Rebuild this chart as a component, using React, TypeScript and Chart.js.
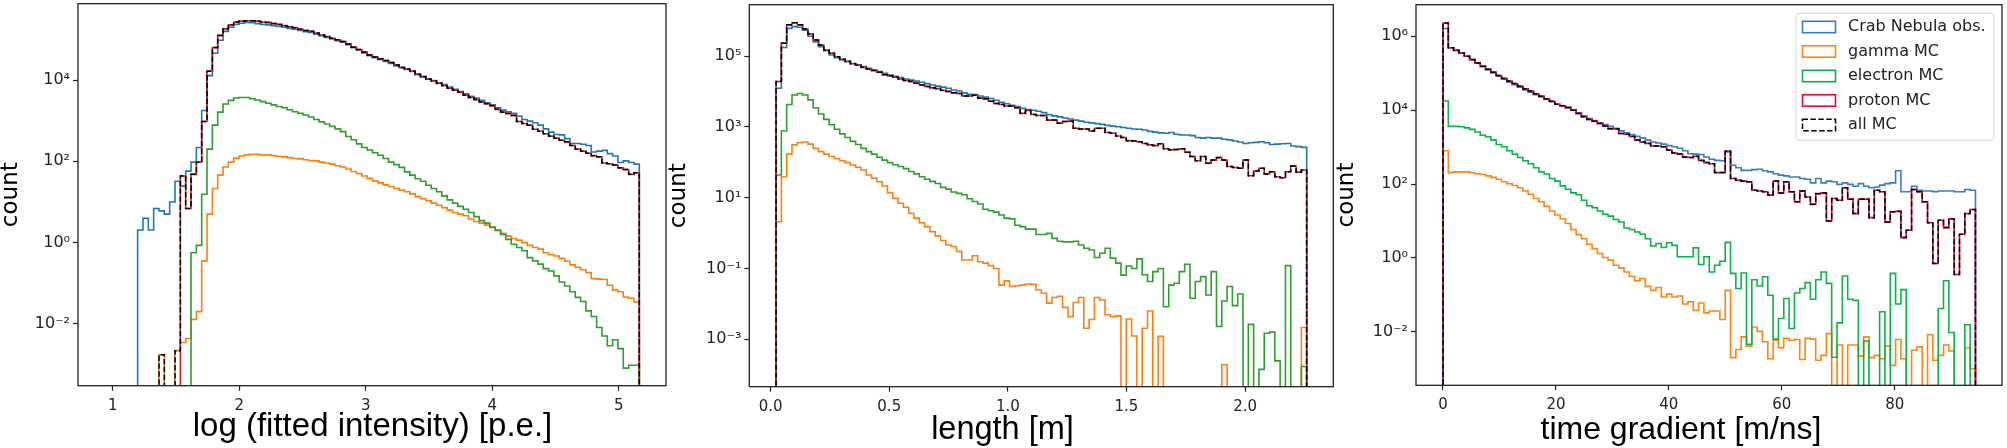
// App.tsx - hillas parameter histograms, data vs MC
import React, { useEffect, useRef } from 'react';
import Chart from 'chart.js/auto';

// bin contents as log10(count), null means an empty bin
const seriesNames = ['Crab Nebula obs.', 'gamma MC', 'electron MC', 'proton MC', 'all MC'];
const defaultColors = ['#1f77b4', '#ff7f0e', '#2ca02c', '#d62728', '#000000'];
const gradientColors = ['#3a7cc4', '#ff8410', '#0db14b', '#e8083c', '#000000'];

// log (fitted intensity)
const intensityRange = [1.1975, 5.163];
const intensityTicks = [1, 2, 3, 4, 5];
const intensityTickLabels = ['1', '2', '3', '4', '5'];
const intensityCountTicks = [1e-2, 1, 1e2, 1e4];
const intensityCountLabels = ['10⁻²', '10⁰', '10²', '10⁴'];
const intensityObs = [
  0.31, 0.6, 0.31, 0.84, 0.78, 0.7, 1.0, 1.51, 1.39, 1.76, 1.98, 2.34, 3.25, 4.11, 4.66, 4.98, 5.2, 5.3, 5.37, 5.4,
  5.42, 5.41, 5.39, 5.37, 5.36, 5.34, 5.32, 5.3, 5.27, 5.25, 5.22, 5.19, 5.17, 5.13, 5.09, 5.05, 5.01, 4.97, 4.93, 4.87,
  4.8, 4.74, 4.67, 4.6, 4.55, 4.51, 4.46, 4.41, 4.35, 4.31, 4.26, 4.21, 4.15, 4.09, 4.03, 3.99, 3.93, 3.89, 3.83, 3.77,
  3.72, 3.66, 3.6, 3.56, 3.5, 3.44, 3.39, 3.32, 3.26, 3.22, 3.18, 3.11, 3.03, 2.99, 2.95, 2.89, 2.8, 2.72, 2.66, 2.65,
  2.56, 2.44, 2.44, 2.42, 2.39, 2.23, 2.25, 2.27, 2.19, 2.13, 1.97, 2.01, 1.97, 1.93,
];
const intensityGamma = [
  null, null, null, null, -2.76, null, null, -2.66, -2.46, -2.36, -1.89, -1.7, -0.45, 0.7, 1.33, 1.66, 1.86, 1.98, 2.08, 2.13,
  2.16, 2.17, 2.17, 2.16, 2.16, 2.14, 2.12, 2.11, 2.09, 2.07, 2.06, 2.04, 2.02, 2.01, 1.98, 1.96, 1.93, 1.89, 1.86, 1.81,
  1.75, 1.7, 1.64, 1.58, 1.52, 1.47, 1.42, 1.38, 1.33, 1.29, 1.25, 1.2, 1.13, 1.08, 1.03, 0.97, 0.92, 0.86, 0.8, 0.74,
  0.7, 0.66, 0.58, 0.52, 0.48, 0.43, 0.37, 0.31, 0.23, 0.16, 0.1, 0.06, 0, -0.07, -0.12, -0.16, -0.25, -0.3, -0.33, -0.39,
  -0.46, -0.55, -0.61, -0.67, -0.74, -0.89, -0.9, -0.91, -1.05, -1.17, -1.21, -1.34, -1.37, -1.46,
];
const intensityElectron = [
  null, null, null, null, null, null, null, null, null, null, -0.25, -0.07, 1.19, 2.3, 2.89, 3.21, 3.41, 3.5, 3.56, 3.57,
  3.57, 3.54, 3.51, 3.47, 3.43, 3.39, 3.35, 3.32, 3.27, 3.22, 3.18, 3.14, 3.09, 3.03, 2.97, 2.92, 2.86, 2.8, 2.73, 2.61,
  2.53, 2.43, 2.34, 2.28, 2.21, 2.15, 2.07, 1.98, 1.92, 1.85, 1.74, 1.66, 1.57, 1.51, 1.41, 1.33, 1.25, 1.15, 1.05, 0.97,
  0.89, 0.82, 0.74, 0.64, 0.54, 0.48, 0.38, 0.3, 0.2, 0.08, -0.04, -0.12, -0.2, -0.37, -0.45, -0.53, -0.64, -0.7, -0.82, -0.97,
  -1.07, -1.21, -1.35, -1.45, -1.68, -1.82, -2.09, -2.3, -2.54, -2.39, -2.61, -3.09, -3.02, -3.02,
];
const intensityProton = [
  null, null, null, null, null, null, null, null, 1.64, 0.84, 1.68, 1.98, 2.98, 4.22, 4.8, 5.1, 5.26, 5.36, 5.43, 5.45,
  5.46, 5.46, 5.45, 5.43, 5.42, 5.39, 5.37, 5.34, 5.31, 5.29, 5.25, 5.22, 5.2, 5.16, 5.11, 5.07, 5.03, 4.99, 4.95, 4.89,
  4.81, 4.75, 4.69, 4.62, 4.57, 4.52, 4.48, 4.43, 4.37, 4.31, 4.27, 4.22, 4.14, 4.08, 4.02, 3.98, 3.92, 3.86, 3.8, 3.75,
  3.7, 3.63, 3.57, 3.52, 3.46, 3.42, 3.37, 3.28, 3.21, 3.18, 3.13, 2.98, 2.93, 2.89, 2.79, 2.74, 2.68, 2.62, 2.57, 2.52,
  2.48, 2.39, 2.3, 2.25, 2.2, 2.14, 2.11, 1.96, 1.94, 1.91, 1.84, 1.8, 1.68, 1.72,
];
const intensityAll = [null, null, null, null, -2.76, null, null, -2.66, ...intensityProton.slice(8)];

// length
const lengthRange = [0.0228, 2.2598];
const lengthTicks = [0, 0.5, 1, 1.5, 2];
const lengthTickLabels = ['0.0', '0.5', '1.0', '1.5', '2.0'];
const lengthCountTicks = [1e-3, 1e-1, 1e1, 1e3, 1e5];
const lengthCountLabels = ['10⁻³', '10⁻¹', '10¹', '10³', '10⁵'];
const lengthObs = [
  4.09, 5.24, 5.78, 5.83, 5.81, 5.73, 5.56, 5.4, 5.26, 5.15, 5.03, 4.95, 4.89, 4.84, 4.79, 4.75, 4.7, 4.65, 4.6, 4.56,
  4.51, 4.46, 4.43, 4.39, 4.35, 4.32, 4.29, 4.26, 4.22, 4.18, 4.15, 4.12, 4.09, 4.04, 4.01, 3.96, 3.92, 3.91, 3.87, 3.84,
  3.8, 3.75, 3.69, 3.65, 3.61, 3.57, 3.52, 3.49, 3.47, 3.44, 3.4, 3.34, 3.31, 3.28, 3.25, 3.22, 3.19, 3.16, 3.13, 3.11,
  3.09, 3.07, 3.04, 3.02, 3.0, 2.98, 2.96, 2.94, 2.93, 2.91, 2.87, 2.85, 2.83, 2.82, 2.84, 2.79, 2.77, 2.77, 2.75, 2.7,
  2.68, 2.7, 2.68, 2.68, 2.65, 2.63, 2.6, 2.57, 2.53, 2.55, 2.56, 2.58, 2.55, 2.5, 2.51, 2.52, 2.53, 2.46, 2.44, 2.42,
];
const lengthGamma = [
  0.32, 1.59, 2.23, 2.49, 2.55, 2.57, 2.51, 2.39, 2.3, 2.23, 2.16, 2.1, 2.04, 1.99, 1.92, 1.86, 1.78, 1.64, 1.55, 1.45,
  1.33, 1.14, 0.98, 0.84, 0.73, 0.56, 0.42, 0.29, 0.18, 0.04, -0.08, -0.21, -0.34, -0.38, -0.52, -0.76, -0.76, -0.64, -0.81, -0.85,
  -0.92, -1.0, -1.47, -1.35, -1.51, -1.49, -1.47, -1.44, -1.45, -1.61, -1.7, -1.98, -1.82, -1.79, -2.1, -2.36, -1.96, -1.82, -2.69, -2.44,
  -1.82, -1.89, -2.31, -2.36, -2.34, null, -2.43, -2.91, null, -2.69, -2.2, null, -2.92, null, null, null, null, null, null, null,
  null, null, null, null, -3.72, null, null, null, null, null, null, null, null, null, null, null, null, null, null, -2.67,
];
const lengthElectron = [
  1.64, 2.88, 3.63, 3.9, 3.94, 3.9, 3.76, 3.54, 3.36, 3.21, 3.06, 2.93, 2.8, 2.7, 2.59, 2.5, 2.39, 2.3, 2.23, 2.14,
  2.06, 1.99, 1.93, 1.88, 1.82, 1.74, 1.67, 1.59, 1.52, 1.46, 1.4, 1.29, 1.24, 1.16, 1.12, 1.08, 0.97, 0.89, 0.82, 0.67,
  0.63, 0.59, 0.51, 0.42, 0.4, 0.22, 0.18, 0.11, 0.11, -0.04, -0.04, -0.01, -0.15, -0.23, -0.25, -0.25, -0.23, -0.34, -0.43, -0.48,
  -0.69, -0.57, -0.43, -0.71, -0.85, -1.19, -0.93, -1.0, -0.73, -1.18, -1.37, -1.09, -1.0, -2.08, -1.47, -1.42, -1.09, -0.88, -1.84, -1.37,
  -1.23, -1.75, -1.09, -2.64, -1.92, -1.51, -2.05, -1.72, null, -2.58, null, -3.85, -2.83, -2.8, -3.61, null, -0.92, null, null, -3.77,
];
const lengthProton = [
  4.28, 5.36, 5.88, 5.94, 5.88, 5.76, 5.62, 5.45, 5.31, 5.17, 5.08, 4.98, 4.91, 4.85, 4.78, 4.74, 4.68, 4.63, 4.59, 4.54,
  4.47, 4.44, 4.4, 4.35, 4.31, 4.28, 4.23, 4.18, 4.14, 4.1, 4.08, 4.03, 4.0, 3.96, 3.94, 3.87, 3.87, 3.89, 3.81, 3.79,
  3.72, 3.66, 3.63, 3.59, 3.58, 3.54, 3.38, 3.46, 3.35, 3.32, 3.32, 3.19, 3.19, 3.1, 3.15, 3.16, 2.96, 2.94, 2.94, 2.88,
  2.96, 2.96, 2.84, 2.82, 2.74, 2.7, 2.61, 2.6, 2.58, 2.53, 2.49, 2.47, 2.52, 2.38, 2.35, 2.36, 2.38, 2.28, 2.16, 2.04,
  2.16, 1.97, 2.06, 2.13, 2.06, 1.88, 1.85, 1.83, 2.06, 1.62, 1.75, 1.83, 1.67, 1.73, 1.59, 1.56, 1.73, 1.89, 1.72, 1.78,
];
const lengthAll = lengthProton;

// time gradient
const gradientRange = [0, 94.3];
const gradientTicks = [0, 20, 40, 60, 80];
const gradientTickLabels = ['0', '20', '40', '60', '80'];
const gradientCountTicks = [1e-2, 1, 1e2, 1e4, 1e6];
const gradientCountLabels = ['10⁻²', '10⁰', '10²', '10⁴', '10⁶'];
const gradientObs = [
  6.21, 5.69, 5.62, 5.55, 5.46, 5.36, 5.27, 5.18, 5.09, 5.01, 4.92, 4.84, 4.76, 4.69, 4.62, 4.55, 4.49, 4.42, 4.36, 4.29,
  4.23, 4.16, 4.12, 4.07, 4.01, 3.93, 3.85, 3.77, 3.72, 3.66, 3.61, 3.56, 3.5, 3.44, 3.39, 3.34, 3.29, 3.25, 3.19, 3.14,
  3.11, 3.08, 3.04, 3.01, 2.97, 2.9, 2.82, 2.81, 2.8, 2.73, 2.67, 2.64, 2.63, 2.87, 2.51, 2.44, 2.37, 2.37, 2.39, 2.4,
  2.36, 2.33, 2.28, 2.24, 2.22, 2.19, 2.19, 2.15, 2.13, 2.03, 2.15, 2.03, 2.08, 2.06, 1.99, 2.03, 1.99, 1.94, 2.01, 1.94,
  1.9, 1.92, 1.97, 2.01, 2.03, 2.36, 1.79, 1.79, 1.94, 1.83, 1.81, 1.81, 1.79, 1.81, 1.81, 1.81, 1.79, 1.79, 1.85, 1.83,
];
const gradientGamma = [
  2.9, 2.31, 2.33, 2.33, 2.33, 2.31, 2.28, 2.26, 2.22, 2.18, 2.13, 2.06, 2.01, 1.96, 1.9, 1.81, 1.72, 1.61, 1.52, 1.4,
  1.27, 1.16, 1.06, 0.93, 0.77, 0.63, 0.52, 0.37, 0.25, 0.12, 0.01, -0.06, -0.2, -0.27, -0.38, -0.5, -0.62, -0.56, -0.77, -0.88,
  -0.8, -1.06, -0.98, -1.06, -1.03, -1.25, -1.19, -1.42, -1.22, -1.49, -1.44, -1.44, -1.67, -0.88, -2.7, -2.48, -2.14, -2.39, -1.87, -1.99,
  -2.27, -2.73, -2.23, -2.43, -2.18, -2.23, -2.21, -2.75, -2.18, -2.2, -2.77, -2.64, -2.05, null, -2.36, null, -2.36, -2.36, -2.66, -2.14,
  -2.7, -2.64, -2.73, -2.39, -2.91, -2.21, -2.73, null, -2.5, -2.41, null, -2.08, -2.77, -2.64, -2.36, -2.52, null, null, -2.44, -3.0,
];
const gradientElectron = [
  4.25, 3.56, 3.56, 3.55, 3.52, 3.48, 3.41, 3.32, 3.28, 3.19, 3.07, 3.01, 2.9, 2.81, 2.72, 2.63, 2.55, 2.44, 2.33, 2.27,
  2.15, 2.08, 1.95, 1.86, 1.76, 1.71, 1.56, 1.41, 1.36, 1.27, 1.18, 1.13, 1.04, 0.97, 0.81, 0.77, 0.7, 0.64, 0.52, 0.32,
  0.39, 0.28, 0.41, 0.34, 0.03, 0.03, 0.03, 0.27, -0.18, 0.03, -0.38, -0.2, -0.09, 0.42, -0.42, -0.83, -0.41, -2.34, -0.59, -0.76,
  -0.51, -1.01, -2.2, -1.64, -1.1, -1.91, -0.95, -0.83, -0.67, -1.12, -0.59, -0.38, -0.69, -2.69, -1.76, -0.49, -1.12, -1.15, null, -2.25,
  null, null, -1.46, null, -0.42, -1.25, -0.86, null, null, null, null, null, null, -1.37, -0.62, -2.02, null, null, -1.81, null,
];
const gradientProton = [
  6.36, 5.69, 5.62, 5.55, 5.46, 5.37, 5.28, 5.19, 5.11, 5.03, 4.94, 4.86, 4.79, 4.72, 4.65, 4.58, 4.52, 4.44, 4.38, 4.31,
  4.24, 4.16, 4.12, 4.07, 4.0, 3.91, 3.82, 3.75, 3.7, 3.64, 3.57, 3.5, 3.5, 3.37, 3.35, 3.29, 3.19, 3.14, 3.1, 3.03,
  3.03, 3.01, 2.92, 2.84, 2.81, 2.73, 2.72, 2.75, 2.64, 2.58, 2.55, 2.31, 2.31, 2.89, 2.15, 2.1, 2.08, 2.06, 1.83, 1.81,
  1.79, 1.7, 2.08, 1.76, 2.06, 1.79, 1.52, 1.81, 1.65, 1.45, 1.74, 1.76, 1.0, 1.61, 1.56, 1.9, 1.59, 1.2, 1.59, 1.59,
  1.09, 1.83, 1.79, 0.97, 1.25, 1.26, 0.55, 0.75, 1.85, 1.79, 1.52, 0.95, -0.15, 1.02, 0.82, 1.06, -0.45, 0.64, 1.2, 1.31,
];
const gradientAll = gradientProton;

const EMPTY_BIN = 1e-9; // below every axis, so the step falls out of the plot

const histPoints = (range: number[], logCounts: (number | null)[]) => {
  const width = (range[1] - range[0]) / logCounts.length;
  const points = [{ x: range[0], y: EMPTY_BIN }];
  logCounts.forEach((v, i) => points.push({ x: range[0] + i * width, y: v === null ? EMPTY_BIN : 10 ** v }));
  points.push({ x: range[1], y: EMPTY_BIN });
  return points;
};

const framePlugin = {
  id: 'frame',
  afterDraw(chart: any) {
    const { ctx, chartArea: a } = chart;
    ctx.save();
    ctx.strokeStyle = '#222';
    ctx.lineWidth = 1.3;
    ctx.strokeRect(a.left, a.top, a.right - a.left, a.bottom - a.top);
    ctx.restore();
  },
};

// the x labels in the figure are not centred on the axes, so the scale title can't be used
const xLabelPlugin = {
  id: 'xLabel',
  afterDraw(chart: any, _args: any, opts: any) {
    const { ctx } = chart;
    ctx.save();
    ctx.font = `${opts.size}px "Liberation Sans"`;
    ctx.fillStyle = '#000';
    ctx.textAlign = 'center';
    ctx.textBaseline = 'middle';
    ctx.fillText(opts.text, opts.x, opts.y);
    ctx.restore();
  },
};

// matplotlib style legend inside the axes, upper right
const legendPlugin = {
  id: 'insideLegend',
  afterDraw(chart: any, _args: any, opts: any) {
    if (!opts.show) return;
    const { ctx, chartArea: a } = chart;
    const left = a.right - 206;
    const top = a.top + 8.6;
    ctx.save();
    ctx.beginPath();
    ctx.roundRect(left, top, 198, 127, 4);
    ctx.fillStyle = 'rgba(255,255,255,0.8)';
    ctx.fill();
    ctx.strokeStyle = '#dcdcdc';
    ctx.lineWidth = 1.2;
    ctx.stroke();
    ctx.font = '16px "DejaVu Sans"';
    ctx.textBaseline = 'middle';
    chart.data.datasets.forEach((ds: any, i: number) => {
      const y = top + 13.7 + i * 24.5;
      ctx.strokeStyle = ds.borderColor;
      ctx.lineWidth = ds.borderWidth;
      ctx.setLineDash(ds.borderDash || []);
      ctx.strokeRect(left + 6.5, y - 5.7, 33, 11.4);
      ctx.setLineDash([]);
      ctx.fillStyle = '#222';
      ctx.fillText(ds.label, left + 52, y);
    });
    ctx.restore();
  },
};

Chart.register(framePlugin, xLabelPlugin, legendPlugin);

interface PanelProps {
  left: number;
  width: number;
  area: { left: number; right: number; top: number; bottom: number };
  xMin: number;
  xMax: number;
  yMin: number;
  yMax: number;
  xTicks: number[];
  xLabels: string[];
  yTicks: number[];
  yLabels: string[];
  xTitle: string;
  xTitleAt: number[];
  xTitleSize: number;
  yTitleGap: number;
  range: number[];
  series: (number | null)[][];
  colors: string[];
  showLegend?: boolean;
}

const HEIGHT = 448;

const Panel: React.FC<PanelProps> = (p) => {
  const canvasRef = useRef<HTMLCanvasElement>(null);

  useEffect(() => {
    if (!canvasRef.current) return;
    const chart = new Chart(canvasRef.current, {
      type: 'scatter',
      data: {
        datasets: p.series.map((logCounts, i) => ({
          label: seriesNames[i],
          data: histPoints(p.range, logCounts),
          showLine: true,
          stepped: 'before' as const,
          pointRadius: 0,
          borderColor: p.colors[i],
          backgroundColor: 'transparent',
          borderWidth: i === 4 ? 1.5 : 1.6,
          borderDash: i === 4 ? [5.5, 2.4] : [],
          order: p.series.length - i, // matplotlib draws later series on top
        })),
      },
      options: {
        responsive: false,
        animation: false,
        events: [],
        layout: {
          autoPadding: false,
          padding: { top: p.area.top, right: p.width - p.area.right + p.left, left: 0, bottom: 0 },
        },
        plugins: {
          legend: { display: false },
          tooltip: { enabled: false },
          insideLegend: { show: !!p.showLegend },
          xLabel: { text: p.xTitle, x: p.xTitleAt[0] - p.left, y: p.xTitleAt[1], size: p.xTitleSize },
        } as any,
        scales: {
          x: {
            type: 'linear',
            min: p.xMin,
            max: p.xMax,
            afterFit: (s: any) => {
              s.height = HEIGHT - p.area.bottom;
              s.paddingLeft = 0;
              s.paddingRight = 0;
            },
            afterBuildTicks: (s: any) => { s.ticks = p.xTicks.map((value) => ({ value })); },
            grid: { drawOnChartArea: false, tickColor: '#222', tickLength: 5, tickWidth: 1.2 },
            border: { display: false },
            ticks: {
              callback: (_v: any, i: number) => p.xLabels[i],
              autoSkip: false,
              maxRotation: 0,
              padding: 6,
              color: '#222',
              font: { family: '"DejaVu Sans"', size: 15 },
            },
          },
          y: {
            type: 'logarithmic',
            min: p.yMin,
            max: p.yMax,
            afterFit: (s: any) => {
              s.width = p.area.left - p.left;
              s.paddingTop = 0;
              s.paddingBottom = 0;
            },
            afterBuildTicks: (s: any) => { s.ticks = p.yTicks.map((value) => ({ value })); },
            grid: { drawOnChartArea: false, tickColor: '#222', tickLength: 5, tickWidth: 1.2 },
            border: { display: false },
            ticks: {
              callback: (_v: any, i: number) => p.yLabels[i],
              autoSkip: false,
              padding: 3,
              color: '#222',
              font: { family: '"DejaVu Sans"', size: 16 },
            },
            title: {
              display: true,
              text: 'count',
              color: '#000',
              font: { family: '"DejaVu Sans"', size: 23, lineHeight: 1 },
              padding: { top: 0, bottom: p.yTitleGap },
            },
          },
        },
      },
    });
    return () => chart.destroy();
  }, [p]);

  return (
    <canvas
      ref={canvasRef}
      width={p.width}
      height={HEIGHT}
      style={{ position: 'absolute', left: p.left, top: 0, width: p.width, height: HEIGHT }}
    />
  );
};

const panels: PanelProps[] = [
  {
    left: 0,
    width: 668,
    area: { left: 78, right: 666, top: 3.7, bottom: 385.7 },
    xMin: 0.726,
    xMax: 5.374,
    yMin: 10 ** -3.5,
    yMax: 10 ** 5.88,
    xTicks: intensityTicks,
    xLabels: intensityTickLabels,
    yTicks: intensityCountTicks,
    yLabels: intensityCountLabels,
    xTitle: 'log (fitted intensity) [p.e.]',
    xTitleAt: [372.5, 427],
    xTitleSize: 33,
    yTitleGap: 0,
    range: intensityRange,
    series: [intensityObs, intensityGamma, intensityElectron, intensityProton, intensityAll],
    colors: defaultColors,
  },
  {
    left: 668,
    width: 668,
    area: { left: 749.3, right: 1333.3, top: 4.7, bottom: 386.7 },
    xMin: -0.09,
    xMax: 2.372,
    yMin: 10 ** -4.34,
    yMax: 10 ** 6.449,
    xTicks: lengthTicks,
    xLabels: lengthTickLabels,
    yTicks: lengthCountTicks,
    yLabels: lengthCountLabels,
    xTitle: 'length [m]',
    xTitleAt: [1002.5, 430],
    xTitleSize: 32.5,
    yTitleGap: 1.5,
    range: lengthRange,
    series: [lengthObs, lengthGamma, lengthElectron, lengthProton, lengthAll],
    colors: defaultColors,
  },
  {
    left: 1336,
    width: 671,
    area: { left: 1416, right: 2002, top: 4.7, bottom: 385.3 },
    xMin: -4.78,
    xMax: 99.0,
    yMin: 10 ** -3.45,
    yMax: 10 ** 6.856,
    xTicks: gradientTicks,
    xLabels: gradientTickLabels,
    yTicks: gradientCountTicks,
    yLabels: gradientCountLabels,
    xTitle: 'time gradient [m/ns]',
    xTitleAt: [1681, 430],
    xTitleSize: 32,
    yTitleGap: 2.5,
    range: gradientRange,
    series: [gradientObs, gradientGamma, gradientElectron, gradientProton, gradientAll],
    colors: gradientColors,
    showLegend: true,
  },
];

export default function App() {
  return (
    <div style={{ position: 'absolute', left: 0, top: 0, width: 2007, height: HEIGHT, background: '#fff' }}>
      {panels.map((panel) => (
        <Panel key={panel.xTitle} {...panel} />
      ))}
    </div>
  );
}
